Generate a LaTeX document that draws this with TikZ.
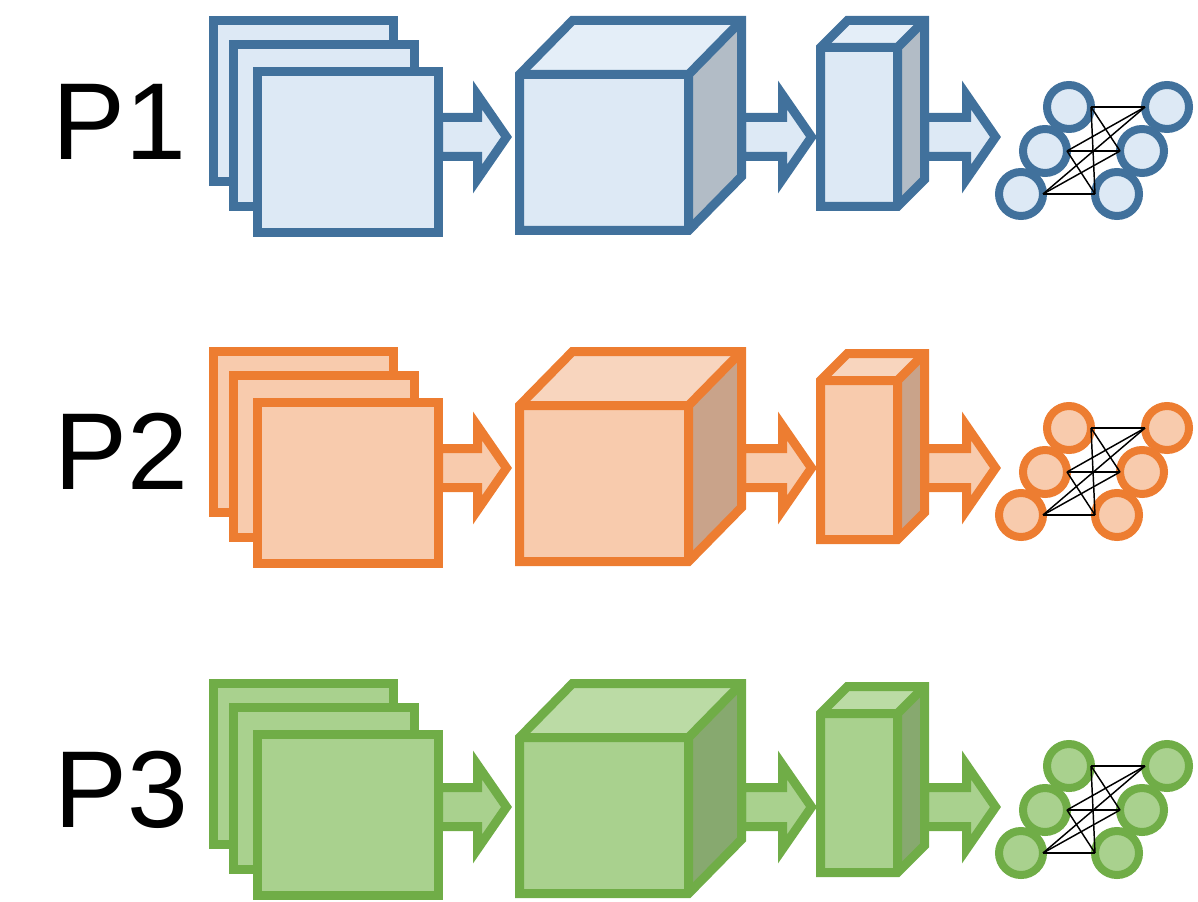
\documentclass[tikz,border=0pt]{standalone}
\usepackage{fontspec}
\setmainfont{Liberation Sans}
\definecolor{bS}{HTML}{41719C}\definecolor{bF}{HTML}{DDE9F5}\definecolor{bT}{HTML}{E4EEF8}\definecolor{bR}{HTML}{B2BCC6}
\definecolor{oS}{HTML}{ED7D31}\definecolor{oF}{HTML}{F8CBAD}\definecolor{oT}{HTML}{F8D5BE}\definecolor{oR}{HTML}{C9A38A}
\definecolor{gS}{HTML}{70AD47}\definecolor{gF}{HTML}{A9D18E}\definecolor{gT}{HTML}{BBDBA5}\definecolor{gR}{HTML}{87A96F}
\tikzset{
  thick3d/.style={draw=#1, line width=6.75pt, line join=miter},
  neuron/.style={draw=#1, line width=6pt},
  link/.style={draw=black, line width=1.1pt},
  plabel/.style={anchor=base, font=\fontsize{82}{82}\selectfont, text=black}
}
% #1 prefix, #2 stroke, #3 fill, #4 top fill, #5 side fill, #6 box y, #7 arrow y, #8 net y, #9 tall box y
\newcommand\cnnrow[9]{%
  \begin{scope}[shift={(0,#7)}]
    \draw[thick3d=#2, fill=#3] (438.5,117.5) -- (477.5,117.5) -- (477.5,95) -- (506.5,137) -- (477.5,179) -- (477.5,156.5) -- (438.5,156.5) -- cycle;
    \draw[thick3d=#2, fill=#3] (741.5,117.5) -- (782.5,117.5) -- (782.5,95) -- (811.5,137) -- (782.5,179) -- (782.5,156.5) -- (741.5,156.5) -- cycle;
    \draw[thick3d=#2, fill=#3] (924.5,117.5) -- (966.5,117.5) -- (966.5,95) -- (995.5,137) -- (966.5,179) -- (966.5,156.5) -- (924.5,156.5) -- cycle;
  \end{scope}
  \begin{scope}[shift={(0,#6)}]
    \draw[thick3d=#2, fill=#3] (213.5,20.5) rectangle (393.5,181.5);
    \draw[thick3d=#2, fill=#3] (233.5,44.5) rectangle (414.5,206.5);
    \draw[thick3d=#2, fill=#3] (257.5,71.5) rectangle (438.5,232.5);
    \fill[#4] (519.5,74.5) -- (572.5,20.5) -- (741.5,20.5) -- (688.5,74.5) -- cycle;
    \fill[#5] (688.5,74.5) -- (741.5,20.5) -- (741.5,176.5) -- (688.5,230.5) -- cycle;
    \fill[#3] (519.5,74.5) rectangle (688.5,230.5);
    \draw[thick3d=#2] (519.5,74.5) -- (572.5,20.5) -- (741.5,20.5) -- (741.5,176.5) -- (688.5,230.5) -- (519.5,230.5) -- cycle;
    \draw[thick3d=#2] (519.5,74.5) -- (688.5,74.5) -- (741.5,20.5) (688.5,74.5) -- (688.5,230.5);
  \end{scope}
  \begin{scope}[shift={(0,#9)}]
    \fill[#4] (820.5,47.5) -- (847.5,20.5) -- (924.5,20.5) -- (897.5,47.5) -- cycle;
    \fill[#5] (897.5,47.5) -- (924.5,20.5) -- (924.5,179.5) -- (897.5,206.5) -- cycle;
    \fill[#3] (820.5,47.5) rectangle (897.5,206.5);
    \draw[thick3d=#2] (820.5,47.5) -- (847.5,20.5) -- (924.5,20.5) -- (924.5,179.5) -- (897.5,206.5) -- (820.5,206.5) -- cycle;
    \draw[thick3d=#2] (820.5,47.5) -- (897.5,47.5) -- (924.5,20.5) (897.5,47.5) -- (897.5,206.5);
  \end{scope}
  \begin{scope}[shift={(0,#8)}]
    \coordinate (#1a) at (1069,107);
    \coordinate (#1d) at (1167,107);
    \coordinate (#1b) at (1045,151);
    \coordinate (#1e) at (1142,151);
    \coordinate (#1c) at (1021,194);
    \coordinate (#1f) at (1117,194);
    \foreach \n in {a,d,b,e,c,f}{\draw[neuron=#2, fill=#3] (#1\n) circle[radius=16.5pt];}
    \foreach \l in {a,b,c}{\foreach \r in {d,e,f}{\draw[link] ([xshift=16.5pt]#1\l) -- ([xshift=-16.5pt]#1\r);}}
  \end{scope}
}
\begin{document}
\begin{tikzpicture}[x=0.75pt, y=-0.75pt]
\useasboundingbox (0,0) rectangle (1198,902);
\cnnrow{one}{bS}{bF}{bT}{bR}{0}{0}{0}{0}
\cnnrow{two}{oS}{oF}{oT}{oR}{331}{331}{321}{333}
\cnnrow{three}{gS}{gF}{gT}{gR}{663}{670}{659}{666}
\node[plabel] (p1) at (119,160) {P1};
\node[plabel] (p2) at (121,489) {P2};
\node[plabel] (p3) at (121,827) {P3};
\end{tikzpicture}
\end{document}
